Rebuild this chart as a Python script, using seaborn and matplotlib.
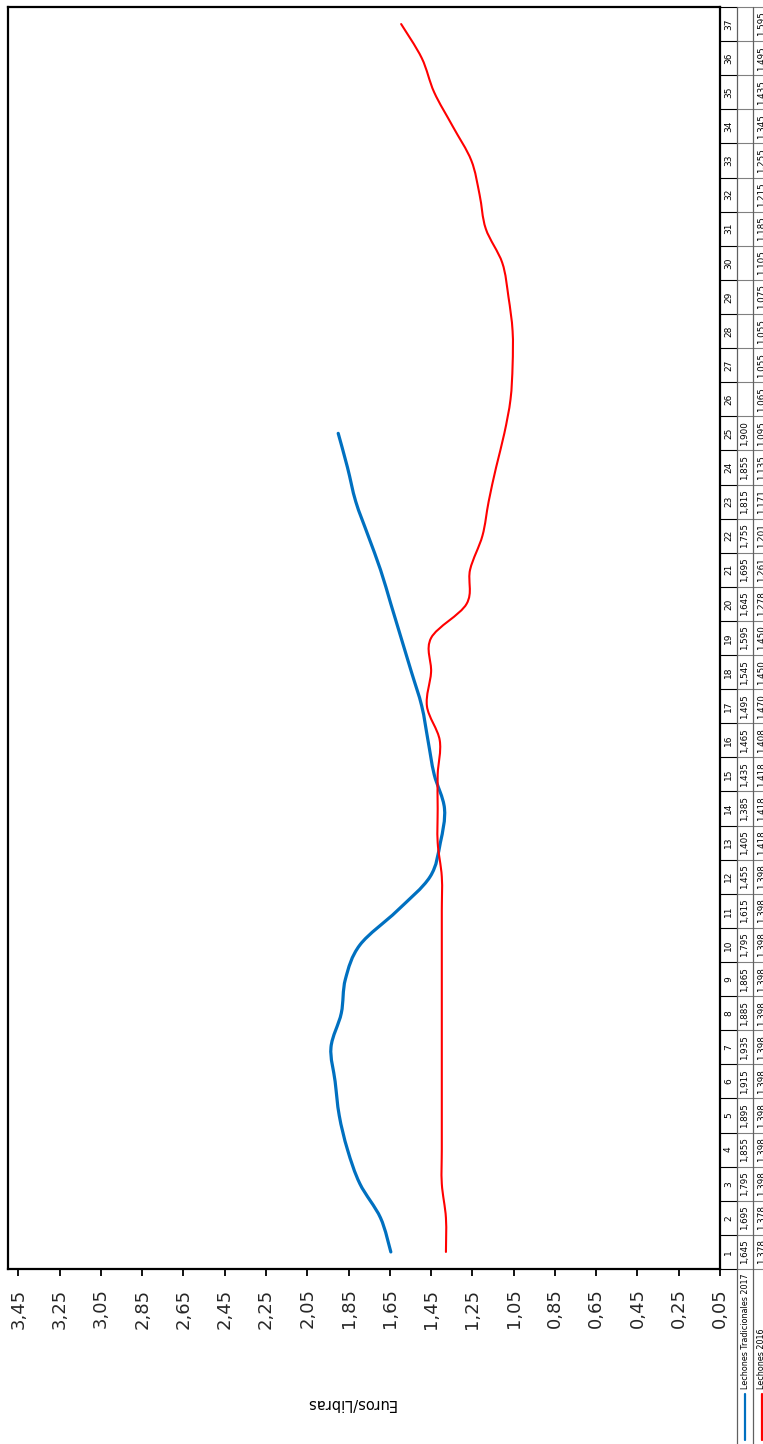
import numpy as np
import pandas as pd
import matplotlib
matplotlib.use("Agg")
import matplotlib.pyplot as plt
from matplotlib.path import Path
from matplotlib.patches import PathPatch
import seaborn as sns

# datos (semana, euros/libra)
semanas_2017 = list(range(1, 26))
precio_2017 = [1.645, 1.695, 1.795, 1.855, 1.895, 1.915, 1.935, 1.885, 1.865, 1.795,
               1.615, 1.455, 1.405, 1.385, 1.435, 1.465, 1.495, 1.545, 1.595, 1.645,
               1.695, 1.755, 1.815, 1.855, 1.900]
semanas_2016 = list(range(1, 38))
precio_2016 = [1.378, 1.378, 1.398, 1.398, 1.398, 1.398, 1.398, 1.398, 1.398, 1.398,
               1.398, 1.398, 1.418, 1.418, 1.418, 1.408, 1.470, 1.450, 1.450, 1.278,
               1.261, 1.201, 1.171, 1.135, 1.095, 1.065, 1.055, 1.055, 1.075, 1.105,
               1.185, 1.215, 1.255, 1.345, 1.435, 1.495, 1.595]
serie_2017 = "Lechones Tradicionales 2017"
serie_2016 = "Lechones 2016"
ticks_valor = [0.05, 0.25, 0.45, 0.65, 0.85, 1.05, 1.25, 1.45, 1.65, 1.85,
               2.05, 2.25, 2.45, 2.65, 2.85, 3.05, 3.25, 3.45]

AZUL = "#0070C0"
ROJO = "#FF0000"

df17 = pd.DataFrame({"semana": semanas_2017, "precio": precio_2017})
df16 = pd.DataFrame({"semana": semanas_2016, "precio": precio_2016})


def suavizar(ax, line):
    # excel-style smoothed line: bezier through the points seaborn drew
    p = line.get_xydata()
    n = len(p)
    verts = [p[0]]
    codes = [Path.MOVETO]
    for i in range(n - 1):
        p0 = p[max(i - 1, 0)]
        p3 = p[min(i + 2, n - 1)]
        c1 = p[i] + (p[i + 1] - p0) / 6.0
        c2 = p[i + 1] - (p3 - p[i]) / 6.0
        verts += [c1, c2, p[i + 1]]
        codes += [Path.CURVE4] * 3
    patch = PathPatch(Path(verts, codes), facecolor="none",
                      edgecolor=line.get_color(), lw=line.get_linewidth(),
                      capstyle="round", joinstyle="round", transform=ax.transData)
    ax.add_patch(patch)
    line.remove()


sns.set_theme(style="white")
plt.rcParams['font.family'] = ['DejaVu Sans']

W, H = 763, 1444
fig = plt.figure(figsize=(W / 100, H / 100), dpi=100)
# plot area in pixels: x 8..720, y 7..1269
L, R, T, B = 8, 720, 7, 1269
ax = fig.add_axes([L / W, 1 - B / H, (R - L) / W, (B - T) / H])

sns.lineplot(data=df17, x="precio", y="semana", orient="y", sort=False,
             color=AZUL, lw=2.3, ax=ax)
sns.lineplot(data=df16, x="precio", y="semana", orient="y", sort=False,
             color=ROJO, lw=1.5, ax=ax)
for ln in list(ax.lines):
    suavizar(ax, ln)

ax.set_xlim(3.5, 0.05)
ax.set_ylim(0.5, 37.5)
ax.set_xticks(ticks_valor)
ax.set_xticklabels([f"{v:.2f}".replace(".", ",") for v in ticks_valor])
ax.set_yticks([])
ax.set_xlabel("")
ax.set_ylabel("")
ax.tick_params(axis="x", direction="out", length=5, width=1.3, color="black",
               labelsize=13, labelrotation=90, pad=9, bottom=True)
for s in ax.spines.values():
    s.set_color("black")
    s.set_linewidth(1.6)

# table to the right (original data table, rotated)
tr = ax.get_yaxis_transform()
def ax_x(px):
    return (px - L) / (R - L)
escala = (B - T) / 37.0
def fila_y(py):
    return 0.5 - (py - B) / escala

for b in np.arange(0.5, 38.0, 1.0):
    ax.plot([ax_x(720), ax_x(737)], [b, b], transform=tr, clip_on=False,
            color="black", lw=0.8)
    ax.plot([ax_x(737), ax_x(775)], [b, b], transform=tr, clip_on=False,
            color="#808080", lw=0.8)
for xc in [737, 753]:
    ax.plot([ax_x(xc), ax_x(xc)], [37.5, fila_y(1460)], transform=tr, clip_on=False,
            color="#606060", lw=0.9)

for w in semanas_2016:
    ax.text(ax_x(728.5), w, str(w), rotation=90, ha="center", va="center",
            transform=tr, fontsize=6.5, color="black")
for w, v in zip(semanas_2017, precio_2017):
    ax.text(ax_x(745), w, f"{v:.3f}".replace(".", ","), rotation=90, ha="center",
            va="center", transform=tr, fontsize=6.3, color="black")
for w, v in zip(semanas_2016, precio_2016):
    ax.text(ax_x(761.5), w, f"{v:.3f}".replace(".", ","), rotation=90, ha="center",
            va="center", transform=tr, fontsize=6.3, color="black")

# legend keys + series names
for xc, col, nombre in [(745, AZUL, serie_2017), (761.5, ROJO, serie_2016)]:
    ax.plot([ax_x(xc), ax_x(xc)], [fila_y(1394), fila_y(1440)], transform=tr,
            clip_on=False, color=col, lw=1.6)
    ax.text(ax_x(xc), fila_y(1389), nombre, rotation=90, rotation_mode="anchor",
            ha="left", va="center", transform=tr, fontsize=5.8, color="black")

fig.text(351 / W, 1 - 1403 / H, "Euros/Libras", rotation=180, ha="center",
         va="center", fontsize=10.5, color="black")

fig.savefig("out.png", dpi=100)
